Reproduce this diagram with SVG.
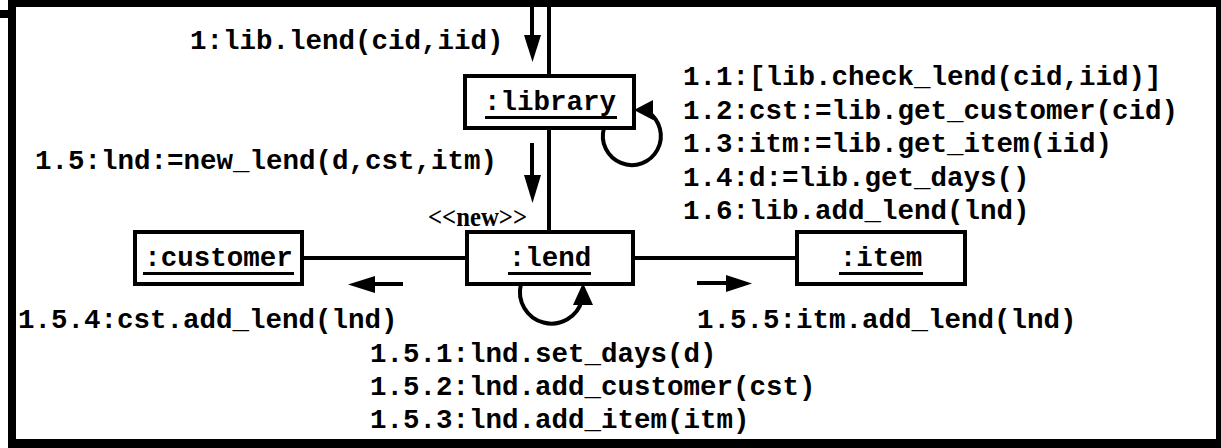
<svg xmlns="http://www.w3.org/2000/svg" width="1221" height="448" viewBox="0 0 1221 448">
<style>
.box{fill:#fff;stroke:#000;stroke-width:4}
.ln{fill:none;stroke:#000;stroke-width:4}
.t{font-family:"Liberation Mono","Courier New",monospace;font-weight:bold;font-size:27.5px;fill:#000}
.n{font-family:"Liberation Mono","Courier New",monospace;font-weight:bold;font-size:27.5px;fill:#000;text-anchor:middle}
.st{font-family:"Liberation Serif","Times New Roman",serif;font-weight:bold;font-size:27px;fill:#000}
.ah{fill:#000}
</style>
<rect x="0" y="0" width="1221" height="448" fill="#fff"/>
<g id="frame">
<rect x="8" y="0" width="1213" height="7" fill="#000"/>
<rect x="8" y="0" width="8" height="448" fill="#000"/>
<rect x="8" y="439" width="1213" height="9" fill="#000"/>
<rect x="1216" y="0" width="5" height="448" fill="#000"/>
<rect x="0" y="10" width="8" height="8" fill="#000"/>
</g>
<g id="connectors">
<line class="ln" x1="549" y1="7" x2="549" y2="76"/>
<line class="ln" x1="549" y1="128" x2="549" y2="232"/>
<line class="ln" x1="302" y1="258" x2="467" y2="258"/>
<line class="ln" x1="633" y1="258" x2="797" y2="258"/>
<path class="ln" d="M604 128 A29 29 0 1 0 648 112"/>
<path class="ln" d="M521 284 A31 31 0 1 0 582 300"/>
<line class="ln" x1="532" y1="7" x2="532" y2="40"/>
<polygon class="ah" points="524,35 541,35 532.5,62"/>
<line class="ln" x1="532" y1="143" x2="532" y2="180"/>
<polygon class="ah" points="524,175 541,175 532.5,203"/>
<line class="ln" x1="403" y1="284" x2="370" y2="284"/>
<polygon class="ah" points="375,276 375,293 348,284.5"/>
<line class="ln" x1="697" y1="283" x2="730" y2="283"/>
<polygon class="ah" points="726,275 726,292 752,283.5"/>
<polygon class="ah" points="634,110 653,100 653,120"/>
<polygon class="ah" points="583,283 573,305 593,305"/>
</g>
<g id="library">
<rect class="box" x="465" y="76" width="169" height="52"/>
<text class="n" x="550" y="110">:library</text>
<rect x="485" y="116" width="132" height="3" fill="#000"/>
</g>
<g id="lend">
<rect class="box" x="467" y="232" width="166" height="52"/>
<text class="n" x="550" y="266">:lend</text>
<rect x="508" y="272" width="83" height="3" fill="#000"/>
</g>
<g id="customer">
<rect class="box" x="135" y="232" width="167" height="52"/>
<text class="n" x="218.5" y="266">:customer</text>
<rect x="143" y="272" width="151" height="3" fill="#000"/>
</g>
<g id="item">
<rect class="box" x="797" y="232" width="168" height="52"/>
<text class="n" x="881" y="266">:item</text>
<rect x="839" y="272" width="84" height="3" fill="#000"/>
</g>
<g id="labels">
<text class="t" x="190" y="49">1:lib.lend(cid,iid)</text>
<text class="t" x="35" y="169">1.5:lnd:=new_lend(d,cst,itm)</text>
<text class="st" x="428" y="226" textLength="99" lengthAdjust="spacingAndGlyphs">&lt;&lt;new&gt;&gt;</text>
<text class="t" x="683" y="85">1.1:[lib.check_lend(cid,iid)]</text>
<text class="t" x="683" y="119">1.2:cst:=lib.get_customer(cid)</text>
<text class="t" x="683" y="152">1.3:itm:=lib.get_item(iid)</text>
<text class="t" x="683" y="186">1.4:d:=lib.get_days()</text>
<text class="t" x="683" y="219">1.6:lib.add_lend(lnd)</text>
<text class="t" x="18" y="328">1.5.4:cst.add_lend(lnd)</text>
<text class="t" x="697" y="328">1.5.5:itm.add_lend(lnd)</text>
<text class="t" x="370" y="362">1.5.1:lnd.set_days(d)</text>
<text class="t" x="370" y="395">1.5.2:lnd.add_customer(cst)</text>
<text class="t" x="370" y="428">1.5.3:lnd.add_item(itm)</text>
</g>
</svg>
